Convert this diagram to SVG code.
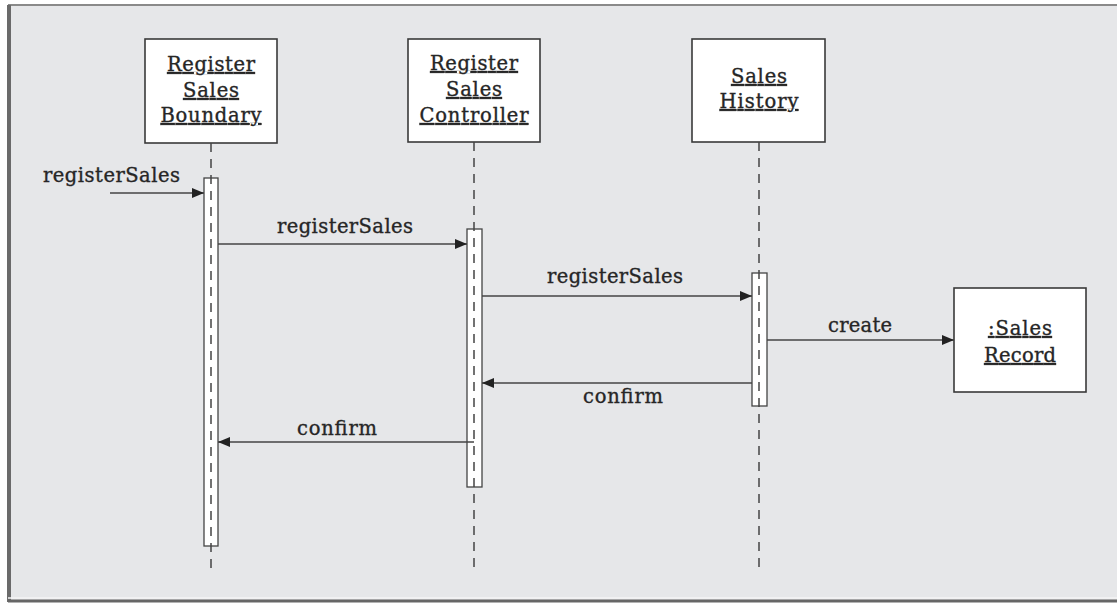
<svg xmlns="http://www.w3.org/2000/svg" width="1117" height="603" viewBox="0 0 1117 603">
  <style>
    text { font-family: "DejaVu Serif", "Liberation Serif", serif; font-size: 19.5px; fill: #262626; stroke: #262626; stroke-width: 0.35; }
    .u { text-decoration: underline; }
    .box { fill: #ffffff; stroke: #3a3a3a; stroke-width: 1.6; }
    .bar { fill: #ffffff; stroke: #444; stroke-width: 1.3; }
    .life { stroke: #444; stroke-width: 1.5; stroke-dasharray: 9 7; fill: none; }
    .msg { stroke: #444; stroke-width: 1.5; fill: none; marker-end: url(#arr); }
  </style>
  <defs>
    <marker id="arr" viewBox="0 0 12 10" refX="12" refY="5" markerWidth="12" markerHeight="10" markerUnits="userSpaceOnUse" orient="auto">
      <path d="M0,0 L12,5 L0,10 z" fill="#222"/>
    </marker>
  </defs>
  <rect x="0" y="0" width="1117" height="603" fill="#ffffff"/>
  <rect x="8" y="5" width="1109" height="596" fill="#e6e7e9"/>
  <line x1="8" y1="5" x2="1117" y2="5" stroke="#8a8a8a" stroke-width="2"/>
  <line x1="9" y1="5" x2="9" y2="602" stroke="#6a6a6a" stroke-width="4"/>
  <line x1="8" y1="598" x2="1117" y2="598" stroke="#f4f4f4" stroke-width="1.5"/>
  <line x1="8" y1="601" x2="1117" y2="601" stroke="#666" stroke-width="3"/>

  <g id="boundary">
    <rect class="box" x="145" y="39" width="132" height="104"/>
    <text class="u" x="211" y="71" text-anchor="middle" textLength="88">Register</text>
    <text class="u" x="211" y="97" text-anchor="middle" textLength="56">Sales</text>
    <text class="u" x="211" y="122" text-anchor="middle" textLength="101">Boundary</text>
    <rect class="bar" x="204" y="178" width="14" height="368"/>
    <line class="life" x1="211" y1="143" x2="211" y2="570"/>
  </g>
  <g id="controller">
    <rect class="box" x="408" y="39" width="132" height="103"/>
    <text class="u" x="474" y="70" text-anchor="middle" textLength="88">Register</text>
    <text class="u" x="474" y="96" text-anchor="middle" textLength="56">Sales</text>
    <text class="u" x="474" y="122" text-anchor="middle" textLength="109">Controller</text>
    <rect class="bar" x="467" y="229" width="15" height="258"/>
    <line class="life" x1="474" y1="142" x2="474" y2="570"/>
  </g>
  <g id="history">
    <rect class="box" x="692" y="39" width="133" height="103"/>
    <text class="u" x="759" y="83" text-anchor="middle" textLength="56">Sales</text>
    <text class="u" x="759" y="108" text-anchor="middle" textLength="79">History</text>
    <rect class="bar" x="752" y="273" width="15" height="133"/>
    <line class="life" x1="759" y1="142" x2="759" y2="570"/>
  </g>
  <g id="record">
    <rect class="box" x="954" y="288" width="132" height="104"/>
    <text class="u" x="1020" y="335" text-anchor="middle" textLength="64">:Sales</text>
    <text class="u" x="1020" y="362" text-anchor="middle" textLength="72">Record</text>
  </g>

  <g id="connectors">
    <line class="msg" x1="110" y1="193" x2="204" y2="193"/>
    <text x="43" y="182" textLength="137">registerSales</text>
    <line class="msg" x1="218" y1="244" x2="467" y2="244"/>
    <text x="277" y="233" textLength="136">registerSales</text>
    <line class="msg" x1="482" y1="296" x2="752" y2="296"/>
    <text x="547" y="283" textLength="136">registerSales</text>
    <line class="msg" x1="767" y1="340" x2="954" y2="340"/>
    <text x="828" y="332" textLength="64">create</text>
    <line class="msg" x1="752" y1="383" x2="482" y2="383"/>
    <text x="583" y="403" textLength="80">confirm</text>
    <line class="msg" x1="474" y1="442" x2="218" y2="442"/>
    <text x="297" y="435" textLength="80">confirm</text>
  </g>
</svg>
